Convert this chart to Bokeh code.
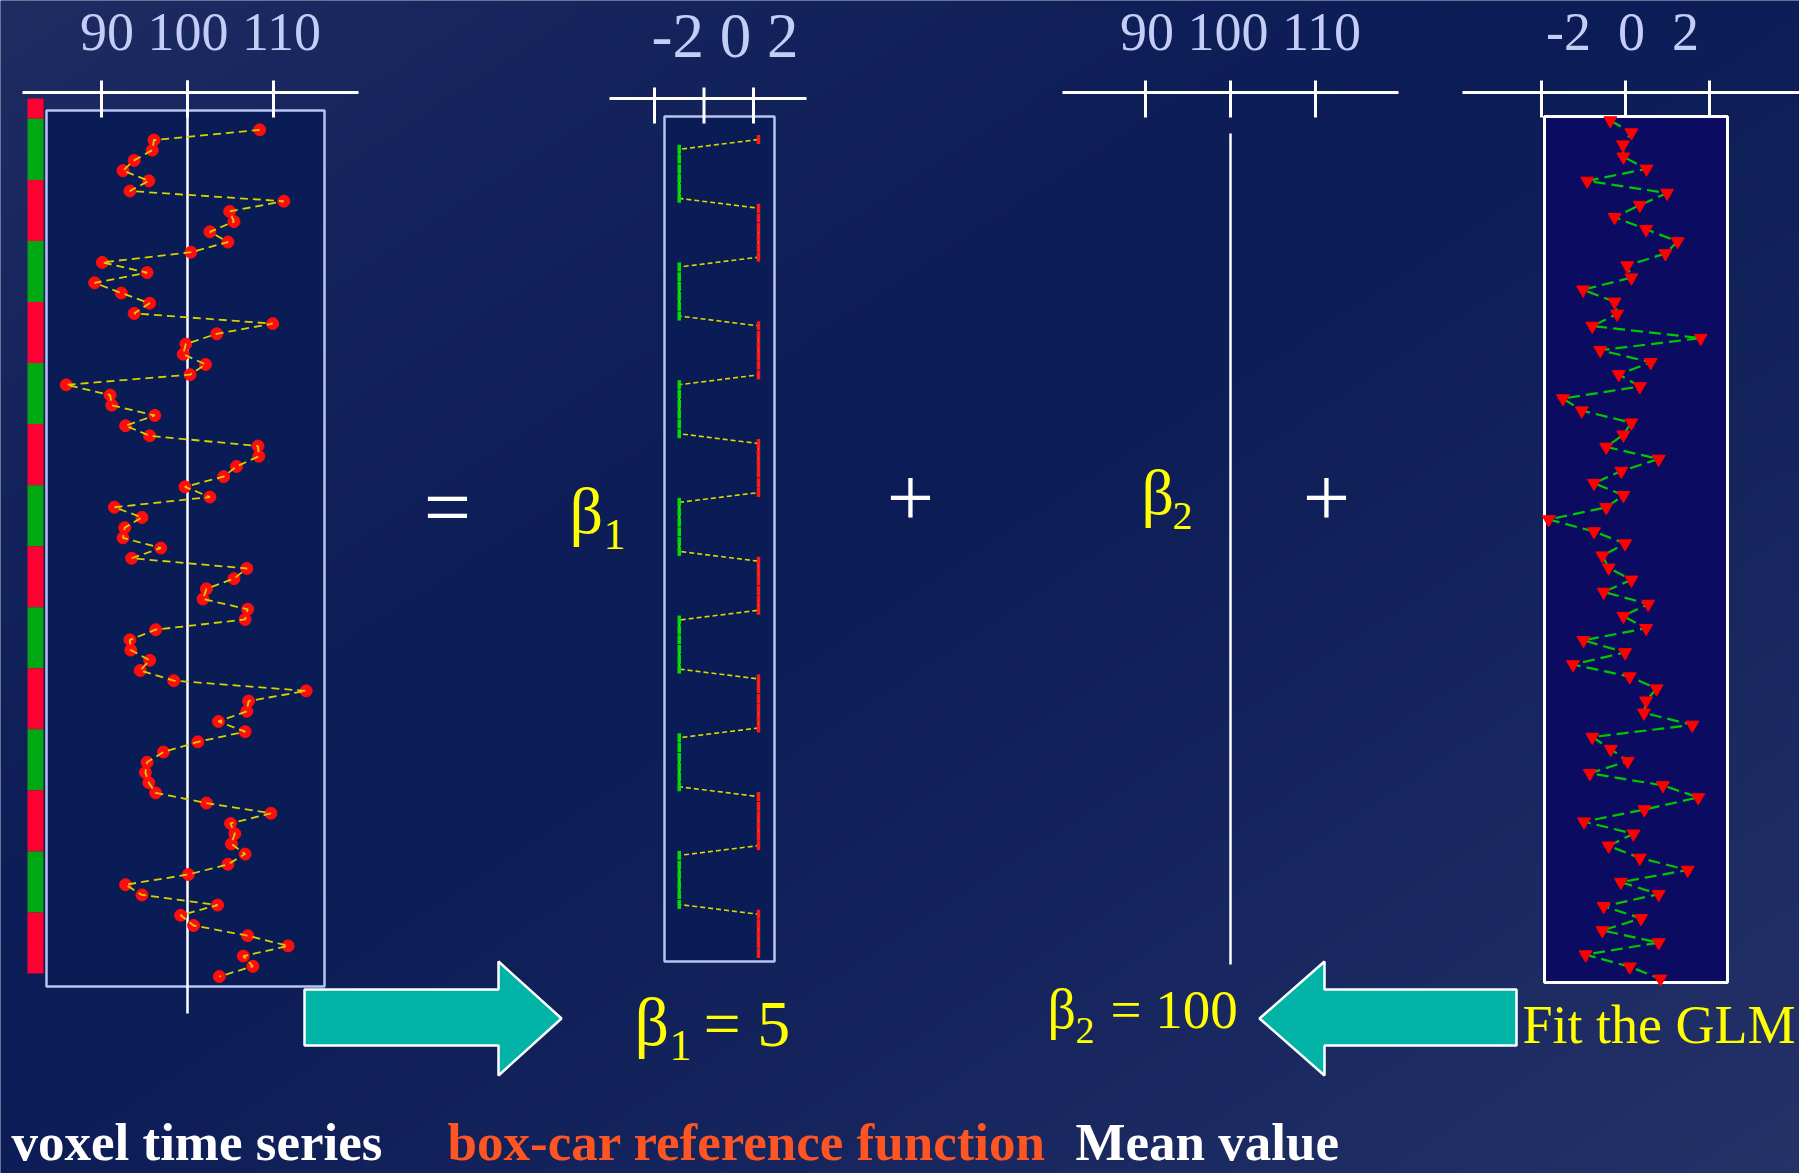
import numpy as np
from bokeh.plotting import figure
from bokeh.models import Range1d
from bokeh.core.properties import value
from bokeh.embed import file_html
from bokeh.resources import INLINE

# ---------------- data ----------------
# stimulation paradigm shown as the coloured strip (scans per block)
block_condition = ["task", "rest", "task", "rest", "task", "rest", "task", "rest",
                   "task", "rest", "task", "rest", "task", "rest", "task"]
block_scans = [2, 6, 6, 6, 6, 6, 6, 6, 6, 6, 6, 6, 6, 6, 6]

# measured voxel signal, one value per scan
voxel_series = [
    108.4, 96.1, 95.9, 93.8, 92.5, 95.5, 93.3, 111.2, 104.9, 105.4,
    102.6, 104.7, 100.4, 90.1, 95.3, 89.2, 92.3, 95.6, 93.8, 109.9,
    103.4, 99.8, 99.5, 102.1, 100.3, 85.9, 91.0, 91.2, 96.2, 92.8,
    95.6, 108.2, 108.3, 105.7, 104.2, 99.7, 102.6, 91.5, 94.7, 92.7,
    92.5, 96.9, 93.5, 106.9, 105.4, 102.2, 101.8, 107.0, 106.7, 96.3,
    93.3, 93.4, 95.6, 94.5, 98.4, 113.8, 107.1, 106.9, 103.6, 106.7,
    101.2, 97.2, 95.3, 95.1, 95.5, 96.3, 102.2, 109.7, 105.0, 105.5,
    105.1, 106.7, 104.7, 100.1, 92.8, 94.7, 103.5, 99.2, 100.7, 107.0,
    111.7, 106.5, 107.6, 103.7,
]

# box-car reference function
boxcar = [
    2.2,
    -1.0, -1.0, -1.0, -1.0, -1.0, -1.0, 2.2, 2.2, 2.2, 2.2, 2.2, 2.2,
    -1.0, -1.0, -1.0, -1.0, -1.0, -1.0, 2.2, 2.2, 2.2, 2.2, 2.2, 2.2,
    -1.0, -1.0, -1.0, -1.0, -1.0, -1.0, 2.2, 2.2, 2.2, 2.2, 2.2, 2.2,
    -1.0, -1.0, -1.0, -1.0, -1.0, -1.0, 2.2, 2.2, 2.2, 2.2, 2.2, 2.2,
    -1.0, -1.0, -1.0, -1.0, -1.0, -1.0, 2.2, 2.2, 2.2, 2.2, 2.2, 2.2,
    -1.0, -1.0, -1.0, -1.0, -1.0, -1.0, 2.2, 2.2, 2.2, 2.2, 2.2, 2.2,
    -1.0, -1.0, -1.0, -1.0, -1.0, -1.0, 2.2, 2.2, 2.2, 2.2, 2.2,
]

# residual error term
residuals = [
    -0.36, 0.14, -0.06, -0.05, 0.50, -0.91, 0.99, 0.34, -0.26, 0.49,
    1.24, 0.95, 0.04, 0.14, -1.01, -0.26, -0.20, -0.79, 1.79, -0.60,
    0.60, -0.16, 0.34, -1.49, -1.04, 0.14, -0.05, -0.46, 0.79, -0.10,
    -0.75, -0.05, -0.46, -1.83, -0.75, -0.01, -0.55, -0.40, 0.14, -0.52,
    0.54, -0.05, 0.49, -1.00, -0.01, -1.25, 0.10, 0.74, 0.49, 0.44,
    1.59, -0.79, -0.35, 0.05, -0.85, 0.89, 1.73, 0.45, -0.99, 0.19,
    -0.40, 0.34, 1.48, -0.11, 0.79, -0.52, 0.37, -0.55, 0.79, -0.95,
    0.10, 0.83,
]

voxel_ticks = [90, 100, 110]
boxcar_ticks = [-2, 0, 2]
mean_ticks = [90, 100, 110]
residual_ticks = [-2, 0, 2]

beta1 = 5
beta2 = 100

# ---------------- canvas ----------------
W, H = 1799, 1173
SERIF = value("Liberation Serif")
YELLOW = "#ffff00"
LAVENDER = "#c4cdf6"
NBSP = "\u00a0"
BASELINE_LIFT = 0.34   # text glyphs sit this fraction of the font size low


def span(v0, p0, v1, p1, size, down=False):
    """Range whose values v0, v1 land on pixels p0, p1 of a frame of `size` px."""
    k = (p1 - p0) / (v1 - v0)
    a = v0 - p0 / k
    b = v0 + (size - p0) / k
    return Range1d(start=b, end=a) if down else Range1d(start=a, end=b)


def px(size):
    return f"{size}px"


p = figure(width=W, height=H, x_range=Range1d(0, W), y_range=Range1d(H, 0),
           output_backend="svg", toolbar_location=None,
           x_axis_location=None, y_axis_location=None, min_border=0,
           outline_line_color=None, background_fill_color="#101f5a",
           border_fill_color="#101f5a")
p.grid.visible = False

p.extra_x_ranges = {
    "ts": span(90, 101, 110, 273, W),
    "bc": span(-2, 654, 2, 753, W),
    "mean": span(90, 1145, 110, 1315, W),
    "res": span(-2, 1541, 2, 1709, W),
}
p.extra_y_ranges = {
    "ts": span(0, 129.3, 83, 976, H, down=True),
    "bc": span(0, 139, 83, 953, H, down=True),
    "res": span(0, 120, 71, 978.3, H, down=True),
    "strip": span(0, 98, 86, 973, H, down=True),
    "bg": Range1d(0, H),
}

# ---- slide background: diagonal navy gradient ----
ny, nx = 391, 600
yy, xx = np.mgrid[0:ny, 0:nx]
u = (xx + 0.5) / nx
vt = 1.0 - (yy + 0.5) / ny
s = (u + vt) / 2.0
dark = np.array([12, 28, 86], float)
tl = np.array([30, 44, 98], float)
br = np.array([36, 50, 104], float)
w1 = np.clip((0.45 - s) / 0.45, 0, 1) ** 1.4
w2 = np.clip((s - 0.45) / 0.55, 0, 1) ** 1.2
rgb = dark + w1[..., None] * (tl - dark) + w2[..., None] * (br - dark)
img = np.empty((ny, nx), dtype=np.uint32)
view = img.view(np.uint8).reshape(ny, nx, 4)
view[..., :3] = np.round(rgb).astype(np.uint8)
view[..., 3] = 255
p.image_rgba(image=[img], x=0, y=0, dw=W, dh=H, y_range_name="bg")

# ---- arrows ----
p.patch(x=[304, 498, 498, 561, 498, 498, 304], y=[989, 989, 961, 1018, 1075, 1045, 1045],
        fill_color="#02b4a7", line_color="white", line_width=2.5)
p.patch(x=[1516, 1324, 1324, 1259, 1324, 1324, 1516], y=[989, 989, 961, 1018, 1075, 1045, 1045],
        fill_color="#02b4a7", line_color="white", line_width=2.5)

# ---- panel frames ----
p.quad(left=[46, 664], right=[324, 774], top=[110, 116], bottom=[986, 961],
       fill_color="#0a1c56", line_color="#b9c4f0", line_width=2.5)
p.quad(left=1544, right=1727, top=116, bottom=982,
       fill_color="#0b0b62", line_color="white", line_width=3)

# ---- paradigm strip ----
edges = np.concatenate([[0], np.cumsum(block_scans)])
strip_colors = ["#ff0033" if c == "task" else "#00a814" for c in block_condition]
p.quad(left=27, right=43, top=edges[:-1], bottom=edges[1:], y_range_name="strip",
       fill_color=strip_colors, line_color=None)


# ---- axes drawn above each panel ----
def top_axis(rng, ticks, y_line, x_from, x_to, t_top, t_bot, label, size, base, dx):
    p.segment(x0=x_from, x1=x_to, y0=y_line, y1=y_line, line_color="white", line_width=3)
    p.segment(x0=ticks, x1=ticks, y0=t_top, y1=t_bot, x_range_name=rng,
              line_color="white", line_width=3)
    mid = ticks[len(ticks) // 2]
    p.text(x=[mid], y=[base - BASELINE_LIFT * size], text=[label], x_range_name=rng,
           x_offset=dx, text_font=SERIF, text_font_size=px(size), text_color=LAVENDER,
           text_align="center", text_baseline="alphabetic")


top_axis("ts", voxel_ticks, 92, 22, 358, 80, 117,
         " ".join(str(t) for t in voxel_ticks), 54, 50, 13)
top_axis("bc", boxcar_ticks, 98, 609, 806, 87, 123,
         " ".join(str(t) for t in boxcar_ticks), 63, 57, 21)
top_axis("mean", mean_ticks, 92, 1062, 1398, 80, 117,
         " ".join(str(t) for t in mean_ticks), 54, 50, 10)
top_axis("res", residual_ticks, 92, 1462, 1799, 80, 117,
         (NBSP * 2).join(str(t) for t in residual_ticks), 54, 50, -3)

# ---- voxel time series ----
ts_idx = np.arange(len(voxel_series))
p.segment(x0=beta2, x1=beta2, y0=80, y1=1013, x_range_name="ts",
          line_color="white", line_width=2.5)
p.scatter(x=voxel_series, y=ts_idx, x_range_name="ts", y_range_name="ts",
          size=12, fill_color="#ff0d0d", line_color="#ff0d0d")
p.line(x=voxel_series, y=ts_idx, x_range_name="ts", y_range_name="ts",
       line_color="#d6d200", line_width=1.8, line_dash="8 5")

# ---- box-car reference ----
bc_idx = np.arange(len(boxcar))
p.line(x=boxcar, y=bc_idx, x_range_name="bc", y_range_name="bc",
       line_color="#dcd800", line_width=1.6, line_dash="5 3")
bc_colors = ["#ff1a1a" if v > 0 else "#00e000" for v in boxcar]
p.scatter(x=boxcar, y=bc_idx, x_range_name="bc", y_range_name="bc", marker="dash",
          angle=np.pi / 2, size=9, line_width=3.5, line_color=bc_colors)

# ---- mean value ----
p.segment(x0=beta2, x1=beta2, y0=133, y1=964, x_range_name="mean",
          line_color="white", line_width=2.5)

# ---- residuals ----
res_idx = np.arange(len(residuals))
p.line(x=residuals, y=res_idx, x_range_name="res", y_range_name="res",
       line_color="#00c800", line_width=2.2, line_dash="12 6")
p.scatter(x=residuals, y=res_idx, x_range_name="res", y_range_name="res",
          marker="inverted_triangle", size=13, fill_color="#ff0000", line_color="#ff0000")


# ---- equation text ----
def label(x, base, txt, size, color, align="left", style="normal"):
    p.text(x=[x], y=[base - BASELINE_LIFT * size], text=[txt], text_font=SERIF,
           text_font_size=px(size), text_color=color, text_align=align,
           text_baseline="alphabetic", text_font_style=style)


def sign(x, centre, txt, size):
    # operator glyph placed by its visual centre
    label(x, centre + 0.35 * size, txt, size, "white", "center")


sign(447, 506, "=", 84)
sign(910, 497, "+", 84)
sign(1326, 497, "+", 84)

label(569, 532, "β", 66, YELLOW)
label(603, 549, "1", 44, YELLOW)
label(1141, 514, "β", 64, YELLOW)
label(1172, 529, "2", 40, YELLOW)

label(634, 1045, "β", 68, YELLOW)
label(669, 1060, "1", 44, YELLOW)
label(703, 1045, f"={NBSP}{beta1}", 66, YELLOW)

label(1047, 1028, "β", 56, YELLOW)
label(1075, 1043, "2", 38, YELLOW)
label(1110, 1028, f"={NBSP}{beta2}", 55, YELLOW)

label(1522, 1043, "Fit the GLM", 54, YELLOW)

label(11, 1160, "voxel time series", 53, "white", style="bold")
label(447, 1160, "box-car reference function", 53, "#ff5522", style="bold")
label(1075, 1160, "Mean value", 53, "white", style="bold")

open("out.html", "w").write(file_html(p, INLINE))
